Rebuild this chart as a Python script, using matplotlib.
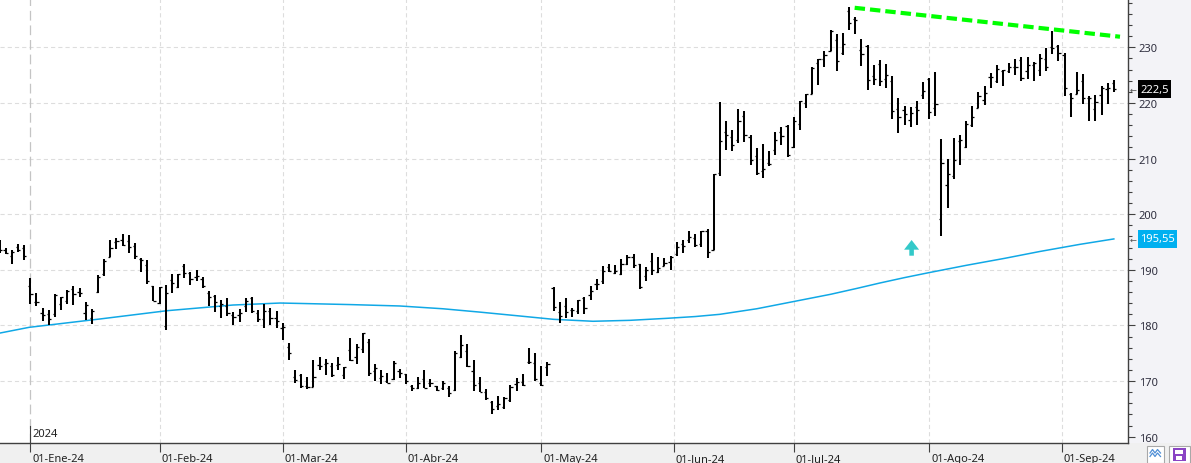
import numpy as np
import matplotlib
matplotlib.use('Agg')
import matplotlib.pyplot as plt
import matplotlib.transforms as mtransforms
from matplotlib.collections import LineCollection
from matplotlib.patches import Rectangle, Polygon

plt.rcParams['font.family'] = ['Noto Sans', 'DejaVu Sans']
plt.rcParams['lines.scale_dashes'] = False

# daily bars 22-Dic-23 .. 13-Sep-24, bar index 0 = 02-Ene-24
opens = [195.18, 193.61, 192.49, 194.14, 193.90,
         187.15, 184.22, 182.15, 181.99, 182.09, 183.92, 184.35, 186.54, 186.06, 182.16, 181.27, 186.09, 189.33, 192.30, 195.02, 195.42, 195.22, 194.27, 192.01, 190.94, 187.04,
         183.99, 179.86, 188.15, 186.86, 190.64, 189.39, 188.65, 188.42, 185.77, 185.32, 183.55, 183.42, 181.79, 181.94, 183.48, 185.01, 182.24, 181.10, 182.51, 181.27,
         179.55, 176.15, 170.76, 171.06, 169.15, 169.00, 172.94, 173.15, 172.77, 172.91, 171.17, 175.57, 174.34, 175.72, 177.05, 171.76, 170.57, 170.00, 170.41, 171.75,
         171.19, 169.08, 168.79, 170.29, 169.59, 169.03, 168.70, 168.80, 168.34, 174.26, 175.36, 171.75, 169.61, 168.03, 166.21, 165.52, 165.35, 166.54, 169.53, 169.88, 173.37, 173.33,
         169.58, 172.51, 186.65, 182.35, 183.45, 182.85, 182.56, 184.90, 185.44, 187.51, 187.91, 190.47, 189.51, 189.33, 191.09, 192.27, 190.98, 188.82, 191.51, 189.61, 190.76, 191.44,
         192.90, 194.64, 195.40, 195.69, 194.65, 196.90, 193.65, 207.37, 214.74, 213.85, 213.37, 217.59, 213.93, 210.39, 207.72, 209.15, 211.50, 214.69, 215.77,
         212.09, 216.15, 220.00, 221.65, 227.09, 227.93, 229.30, 231.39, 228.92, 236.48, 235.00, 229.45, 230.28, 224.82, 227.01, 224.37, 224.00, 218.93, 218.70, 216.96, 219.19, 221.44,
         224.37, 219.15, 199.09, 205.30, 206.90, 213.11, 212.10, 216.07, 219.01, 220.57, 224.60, 223.92, 225.72, 225.77, 226.52, 227.79, 225.66, 226.76, 226.00, 227.92, 230.10, 230.19,
         228.55, 221.66, 221.63, 223.95, 220.82, 218.92, 221.46, 222.50, 223.58]
highs = [195.41, 193.89, 193.50, 194.66, 194.40,
         188.44, 185.88, 183.09, 182.76, 185.60, 185.15, 186.40, 187.05, 186.74, 184.26, 182.93, 189.14, 191.95, 195.33, 195.75, 196.38, 196.27, 194.76, 192.20, 191.80, 187.10,
         186.95, 187.33, 189.25, 189.31, 191.05, 189.54, 189.99, 188.67, 186.21, 185.53, 184.49, 184.85, 182.43, 182.89, 184.96, 185.04, 182.76, 183.92, 183.12, 182.57,
         180.53, 176.90, 172.04, 171.24, 170.73, 173.70, 174.38, 174.03, 173.19, 174.31, 172.62, 177.71, 176.61, 178.67, 177.49, 173.05, 171.94, 171.42, 173.60, 172.23,
         171.25, 169.34, 170.68, 171.92, 170.39, 169.20, 170.08, 169.09, 175.46, 178.36, 176.63, 173.76, 170.65, 168.64, 166.40, 167.26, 167.05, 169.30, 170.61, 171.34, 176.03, 174.99,
         172.71, 173.42, 187.00, 184.20, 184.90, 183.07, 184.66, 185.09, 187.10, 188.30, 190.65, 191.10, 190.81, 191.92, 192.73, 192.82, 191.00, 190.58, 193.00, 192.25, 192.18, 192.57,
         194.99, 195.32, 196.90, 196.50, 196.94, 197.30, 207.16, 220.20, 216.75, 215.17, 218.95, 218.63, 214.24, 211.89, 212.70, 211.38, 214.86, 215.74, 216.07,
         217.51, 220.38, 221.55, 226.45, 227.85, 229.40, 233.08, 232.39, 232.64, 237.23, 235.40, 231.46, 230.44, 226.80, 227.78, 226.94, 224.80, 220.85, 219.49, 219.30, 220.33, 223.82,
         224.48, 225.60, 213.50, 209.99, 213.64, 214.20, 216.78, 219.51, 221.89, 223.03, 225.35, 226.83, 225.99, 227.17, 227.98, 228.34, 228.22, 227.28, 228.85, 229.86, 232.92, 230.40,
         229.00, 221.78, 225.48, 225.24, 221.27, 221.48, 223.09, 223.55, 224.04]
lows = [192.97, 192.83, 191.09, 193.17, 191.73,
        183.89, 183.43, 180.88, 180.17, 181.50, 182.73, 183.92, 183.62, 185.19, 180.93, 180.30, 185.83, 188.82, 192.26, 193.83, 194.34, 193.11, 191.94, 189.58, 187.47, 184.35,
        183.82, 179.25, 185.84, 186.77, 188.61, 187.35, 188.00, 186.79, 183.51, 182.44, 181.35, 181.67, 180.00, 180.66, 182.46, 182.23, 180.65, 179.56, 180.13, 179.53,
        177.38, 173.79, 169.62, 168.68, 168.49, 168.94, 172.05, 171.01, 170.76, 172.05, 170.29, 173.52, 173.03, 175.09, 170.84, 170.06, 169.45, 169.58, 170.11, 170.51,
        169.48, 168.23, 168.58, 168.82, 168.95, 168.24, 168.35, 167.11, 168.16, 174.21, 172.50, 168.27, 168.00, 166.55, 164.08, 164.77, 164.92, 166.21, 168.15, 169.18, 173.10, 170.00,
        169.11, 170.89, 182.66, 180.42, 181.32, 181.45, 182.11, 182.13, 184.62, 186.29, 187.37, 189.66, 189.18, 189.01, 190.92, 190.27, 186.63, 188.04, 189.10, 189.51, 190.63, 189.91,
        192.52, 193.03, 194.87, 194.17, 194.14, 192.15, 193.63, 206.90, 211.60, 211.30, 212.72, 213.00, 208.85, 207.11, 206.59, 208.61, 210.64, 212.35, 210.30,
        211.92, 215.10, 219.03, 221.65, 223.25, 226.37, 229.25, 225.77, 228.68, 233.09, 232.33, 226.64, 222.27, 223.28, 223.09, 222.68, 217.13, 214.62, 216.01, 215.75, 216.12, 220.63,
        217.02, 217.71, 196.00, 201.07, 206.39, 208.83, 211.97, 215.60, 219.01, 219.70, 222.76, 223.65, 223.04, 225.45, 225.05, 223.90, 224.33, 223.89, 224.89, 225.68, 228.88, 227.48,
        221.17, 217.48, 221.52, 219.77, 216.71, 216.73, 217.89, 219.82, 221.91]
closes = [193.60, 193.05, 193.15, 193.58, 192.53,
          185.64, 184.25, 181.91, 181.18, 185.56, 185.14, 186.19, 185.59, 185.92, 183.63, 182.68, 188.63, 191.56, 193.89, 195.18, 194.50, 194.17, 192.42, 191.73, 188.04, 184.40,
          186.86, 185.85, 187.68, 189.30, 189.41, 188.32, 188.85, 187.15, 185.04, 184.15, 183.86, 182.31, 181.56, 182.32, 184.37, 182.52, 181.16, 182.63, 181.42, 180.75,
          179.66, 175.10, 170.12, 169.12, 169.00, 170.73, 172.75, 173.23, 171.13, 173.00, 172.62, 173.72, 176.08, 178.67, 171.37, 172.28, 170.85, 169.71, 173.31, 171.48,
          170.03, 168.84, 169.65, 168.82, 169.58, 168.45, 169.67, 167.78, 175.04, 176.55, 172.69, 169.38, 168.00, 167.04, 165.00, 165.84, 166.90, 169.02, 169.89, 169.30, 173.50, 170.33,
          169.30, 173.03, 183.38, 181.71, 182.40, 182.74, 184.57, 183.05, 186.28, 187.43, 189.72, 189.84, 189.87, 191.04, 192.35, 190.90, 186.88, 189.98, 189.99, 190.29, 191.29, 192.25,
          194.03, 194.35, 195.87, 194.48, 196.89, 193.12, 207.15, 213.07, 214.24, 212.49, 216.67, 214.29, 209.68, 207.49, 208.14, 209.07, 213.25, 214.10, 210.62,
          216.75, 220.27, 221.55, 226.34, 227.82, 228.68, 232.98, 227.57, 230.54, 234.40, 234.82, 228.88, 224.18, 224.31, 223.96, 225.01, 218.54, 217.49, 217.96, 218.24, 218.80, 222.08,
          218.36, 219.86, 209.27, 207.23, 209.82, 213.31, 216.24, 217.53, 221.27, 221.72, 224.72, 226.05, 225.89, 226.51, 226.40, 224.53, 226.84, 227.18, 228.03, 226.49, 229.79, 229.00,
          222.77, 220.85, 222.38, 220.82, 220.91, 220.11, 222.66, 222.77, 222.50]
first_idx = -5

# moving average (bar index, value)
ma_idx = [-4.9, -0.2, 11.3, 22.2, 32.9, 40.6, 44, 52, 60, 67, 73, 79.5, 85, 91.4, 97.4,
          103.4, 108, 112, 118, 124, 130, 134.3, 138, 142, 146, 152, 158.3, 164, 170.5, 176]
ma_val = [178.64, 179.66, 181.16, 182.65, 183.67, 184.03, 183.95, 183.75, 183.5, 183.0, 182.4,
          181.7, 181.1, 180.75, 180.92, 181.28, 181.6, 182.0, 183.0, 184.3, 185.6, 186.67,
          187.63, 188.6, 189.5, 190.8, 192.07, 193.3, 194.58, 195.55]

# resistance line
trend_idx = [133.9, 177.0]
trend_val = [237.1, 231.9]

# buy arrow
arrow_idx = 143.15
arrow_tip = 195.36

month_pos = [0, 21, 41, 61, 83, 104.5, 124, 146, 167.5]
month_labels = ['01-Ene-24', '01-Feb-24', '01-Mar-24', '01-Abr-24', '01-May-24',
                '01-Jun-24', '01-Jul-24', '01-Ago-24', '01-Sep-24']
price_ticks = [160, 170, 180, 190, 200, 210, 220, 230]
last_price = '222,5'
last_ma = '195,55'

W, H = 1191, 464
fig = plt.figure(figsize=(W / 100, H / 100), dpi=100)
fig.patch.set_facecolor('#f3f3f7')
px = mtransforms.Affine2D().scale(1 / W, -1 / H).translate(0, 1) + fig.transFigure

# bottom strip
fig.add_artist(Rectangle((0, 444), W, 20, transform=px, facecolor='#f0f0f0', edgecolor='none', zorder=0))

ax = fig.add_axes([0, 20 / H, 1128 / W, 444 / H])
ax.set_facecolor('white')
ax.set_xlim(-4.92, 178.3)
ax.set_ylim(158.87, 238.68)
for s in ['top', 'left']:
    ax.spines[s].set_visible(False)
for s in ['right', 'bottom']:
    ax.spines[s].set_color('#404040')
    ax.spines[s].set_linewidth(1.0)

# grid
for p in price_ticks[1:]:
    ax.axhline(p, color='#dddddd', lw=0.8, dashes=(3, 2.2), zorder=1)
for m in month_pos[1:]:
    ax.axvline(m, color='#dddddd', lw=0.8, dashes=(3, 2.2), zorder=1)
ax.axvline(month_pos[0], color='#c4c4c4', lw=0.9, dashes=(7, 3.5), zorder=1)

# moving average
ax.plot(ma_idx, ma_val, color='#10a8e6', lw=1.1, zorder=2)

# ohlc bars
xs = np.arange(len(opens)) + first_idx
vert, ticks = [], []
for x, o, h, l, c in zip(xs, opens, highs, lows, closes):
    vert.append([(x, l), (x, h)])
    ticks.append([(x - 0.36, o), (x, o)])
    ticks.append([(x, c), (x + 0.36, c)])
ax.add_collection(LineCollection(vert, colors='black', linewidths=1.45, zorder=3))
ax.add_collection(LineCollection(ticks, colors='black', linewidths=0.9, zorder=3))

# trend line
ax.plot(trend_idx, trend_val, color='#00ff00', lw=3.0, dashes=(7.5, 3.6),
        solid_capstyle='butt', dash_capstyle='butt', zorder=4)

# arrow
hw, sw = 1.22, 0.37
hb = arrow_tip - 1.74
sb = arrow_tip - 2.82
ax.add_patch(Polygon([(arrow_idx, arrow_tip), (arrow_idx + hw, hb), (arrow_idx + sw, hb),
                      (arrow_idx + sw, sb), (arrow_idx - sw, sb), (arrow_idx - sw, hb),
                      (arrow_idx - hw, hb)], closed=True, facecolor='#33c9c9',
                     edgecolor='none', zorder=4))

# y axis on the right
ax.yaxis.tick_right()
ax.set_yticks(price_ticks)
ax.set_yticks(np.arange(160, 239, 2), minor=True)
ax.tick_params(axis='y', which='major', length=5.2, width=0.8, color='#404040',
               pad=2.5, labelsize=8, labelcolor='#2e2e3e')
ax.tick_params(axis='y', which='minor', length=2.7, width=0.8, color='#404040')

# x axis
ax.set_xticks(month_pos)
ax.set_xticklabels([])
ax.tick_params(axis='x', which='major', length=6.5, width=0.8, color='#404040')
bt = mtransforms.blended_transform_factory(ax.transData, ax.transAxes)
lab_tr = mtransforms.offset_copy(bt, fig=fig, x=2, y=-18.5, units='dots')
for m, lab in zip(month_pos, month_labels):
    ax.text(m, 0, lab, transform=lab_tr, ha='left', va='baseline', fontsize=8,
            color='#222222', clip_on=False)
ax.plot([month_pos[0], month_pos[0]], [0, 17 / 444], transform=bt, color='#404040',
        lw=0.8, clip_on=False, zorder=5)
yr_tr = mtransforms.offset_copy(bt, fig=fig, x=2, y=6.5, units='dots')
ax.text(month_pos[0], 0, '2024', transform=yr_tr, ha='left', va='baseline', fontsize=8,
        color='#222222')

# price tags on the right axis
tag_tr = mtransforms.blended_transform_factory(px, ax.transData)
for val, txt, col, w in [(closes[-1], last_price, 'black', 33), (ma_val[-1], last_ma, '#00b0f0', 39.5)]:
    fig.add_artist(Rectangle((1137.7, val - 1.65), w, 3.3, transform=tag_tr,
                             facecolor=col, edgecolor='none', zorder=6))
    fig.text(1137.7 + w / 2, val, txt, transform=tag_tr, ha='center', va='center',
             fontsize=8, color='white', zorder=7)
    fig.text(1133, val, '←', transform=tag_tr, ha='center', va='center',
             fontsize=6, color='#505050', family='DejaVu Sans', zorder=7)

# small buttons bottom right
fig.add_artist(Rectangle((1147, 446.5), 17, 17, transform=px, facecolor='white',
                         edgecolor='#a8a8a8', lw=0.8))
fig.add_artist(Rectangle((1168.5, 446.5), 21, 17, transform=px, facecolor='white',
                         edgecolor='#a8a8a8', lw=0.8))
for dy in (0, 3.5):
    zx = [1150, 1152.5, 1155, 1157.5, 1160.5]
    zy = [454 + dy, 450.5 + dy, 454 + dy, 450.5 + dy, 454 + dy]
    fig.add_artist(plt.Line2D(zx, zy, transform=px, color='#4f8fd6', lw=0.9))
fig.add_artist(Rectangle((1172.5, 449), 13, 13, transform=px, facecolor='#8a44c4',
                         edgecolor='none'))
fig.add_artist(Rectangle((1175, 450.5), 8, 4, transform=px, facecolor='white',
                         edgecolor='none'))
fig.add_artist(Rectangle((1176, 457), 6, 4, transform=px, facecolor='white',
                         edgecolor='none'))

fig.savefig('out.png', dpi=100, facecolor=fig.get_facecolor())
